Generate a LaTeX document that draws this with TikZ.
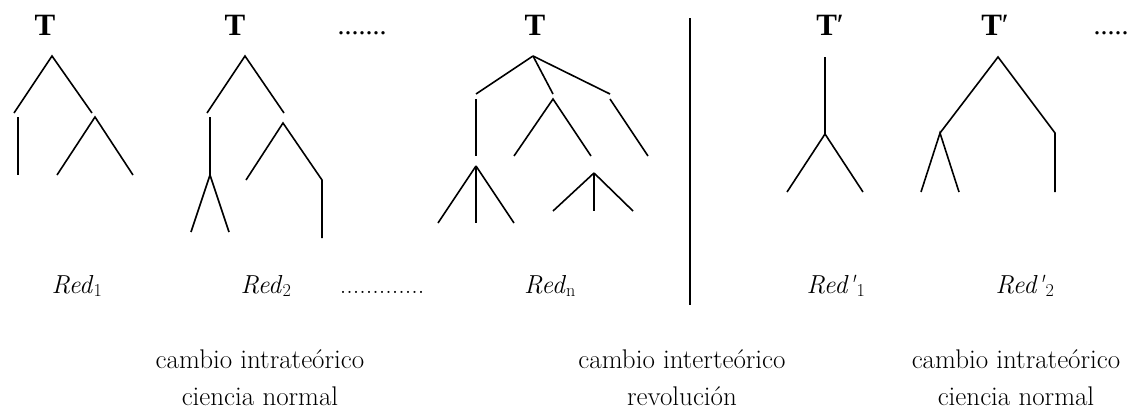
\documentclass[tikz,border=0pt]{standalone}
\usepackage{fontspec}
\newfontfamily\timesfont{Liberation Serif}
\begin{document}
\begin{tikzpicture}[x=1pt,y=-1pt,
  branch/.style={line width=1.6pt},
  tlbl/.style={inner sep=0pt,anchor=base,font=\timesfont\bfseries\fontsize{31}{36}\selectfont},
  topdots/.style={inner sep=0pt,anchor=base,font=\timesfont\fontsize{28}{32}\selectfont},
  redlbl/.style={inner sep=0pt,anchor=base,font=\fontsize{26}{30}\selectfont},
  caption/.style={inner sep=0pt,anchor=base,font=\fontsize{27}{32}\selectfont}]
\useasboundingbox (0,0) rectangle (1137,410);
% ---------- labels on top
\node[tlbl] (T1) at (45,35) {T};
\node[tlbl] (T2) at (235,35) {T};
\node[topdots] (D1) at (362,34) {.......};
\node[tlbl] (T3) at (535,35) {T};
\node[tlbl] (T4) at (830,35) {T{\mdseries ′}};
\node[tlbl] (T5) at (995,35) {T{\mdseries ′}};
\node[topdots] (D2) at (1111,34) {.....};
% ---------- tree 1
\coordinate (a1) at (52,56); \coordinate (a1l) at (14,113); \coordinate (a1r) at (92,113);
\coordinate (b1t) at (18,117); \coordinate (b1b) at (18,175);
\coordinate (c1) at (95,117); \coordinate (c1l) at (57,175); \coordinate (c1r) at (133,175);
\draw[branch] (a1l) -- (a1) -- (a1r);
\draw[branch] (b1t) -- (b1b);
\draw[branch] (c1l) -- (c1) -- (c1r);
% ---------- tree 2
\coordinate (a2) at (245,56); \coordinate (a2l) at (207,113); \coordinate (a2r) at (284,113);
\coordinate (b2t) at (210,117); \coordinate (b2m) at (210,175);
\coordinate (b2l) at (191,232); \coordinate (b2r) at (229,232);
\coordinate (c2) at (283,123); \coordinate (c2l) at (246,180); \coordinate (c2r) at (322,180);
\coordinate (c2b) at (322,238);
\draw[branch] (a2l) -- (a2) -- (a2r);
\draw[branch] (b2t) -- (b2m);
\draw[branch] (b2l) -- (b2m) -- (b2r);
\draw[branch] (c2l) -- (c2) -- (c2r) -- (c2b);
% ---------- tree 3
\coordinate (a3) at (533,56); \coordinate (a3l) at (476,94); \coordinate (a3m) at (553,94);
\coordinate (a3r) at (610,94);
\coordinate (d3t) at (476,99); \coordinate (d3b) at (476,156);
\coordinate (e3) at (476,166); \coordinate (e3l) at (438,223); \coordinate (e3m) at (476,223);
\coordinate (e3r) at (514,223);
\coordinate (f3) at (553,99); \coordinate (f3l) at (514,156); \coordinate (f3r) at (591,156);
\coordinate (g3t) at (610,99); \coordinate (g3b) at (648,156);
\coordinate (h3) at (594,173); \coordinate (h3l) at (553,211); \coordinate (h3m) at (594,211);
\coordinate (h3r) at (633,211);
\draw[branch] (a3) -- (a3l);
\draw[branch] (a3) -- (a3m);
\draw[branch] (a3) -- (a3r);
\draw[branch] (d3t) -- (d3b);
\draw[branch] (e3) -- (e3l);
\draw[branch] (e3) -- (e3m);
\draw[branch] (e3) -- (e3r);
\draw[branch] (f3l) -- (f3) -- (f3r);
\draw[branch] (g3t) -- (g3b);
\draw[branch] (h3) -- (h3l);
\draw[branch] (h3) -- (h3m);
\draw[branch] (h3) -- (h3r);
% ---------- divider
\coordinate (v1) at (690,18); \coordinate (v2) at (690,305);
\draw[branch] (v1) -- (v2);
% ---------- tree 4
\coordinate (p4t) at (825,57); \coordinate (p4) at (825,134);
\coordinate (p4l) at (787,192); \coordinate (p4r) at (863,192);
\draw[branch] (p4t) -- (p4);
\draw[branch] (p4l) -- (p4) -- (p4r);
% ---------- tree 5
\coordinate (a5) at (998,57); \coordinate (a5l) at (940,133); \coordinate (a5r) at (1055,133);
\coordinate (a5b) at (1055,192); \coordinate (a5ll) at (921,192); \coordinate (a5lr) at (959,192);
\draw[branch] (a5l) -- (a5) -- (a5r) -- (a5b);
\draw[branch] (a5ll) -- (a5l) -- (a5lr);
% ---------- Red labels
\node[redlbl] (R1) at (77,293) {\textit{Red}\textsubscript{1}};
\node[redlbl] (R2) at (266,293) {\textit{Red}\textsubscript{2}};
\node[redlbl] (RD) at (382,293) {.............};
\node[redlbl] (Rn) at (550,293) {\textit{Red}\textsubscript{n}};
\node[redlbl] (Rp1) at (836,293) {\textit{Red\textquotesingle}\textsubscript{1}};
\node[redlbl] (Rp2) at (1025,293) {\textit{Red\textquotesingle}\textsubscript{2}};
% ---------- captions
\node[caption] (C1a) at (260,368) {cambio intrateórico};
\node[caption] (C1b) at (260,405) {ciencia normal};
\node[caption] (C2a) at (682,368) {cambio interteórico};
\node[caption] (C2b) at (682,405) {revolución};
\node[caption] (C3a) at (1016,368) {cambio intrateórico};
\node[caption] (C3b) at (1016,405) {ciencia normal};
\end{tikzpicture}
\end{document}
